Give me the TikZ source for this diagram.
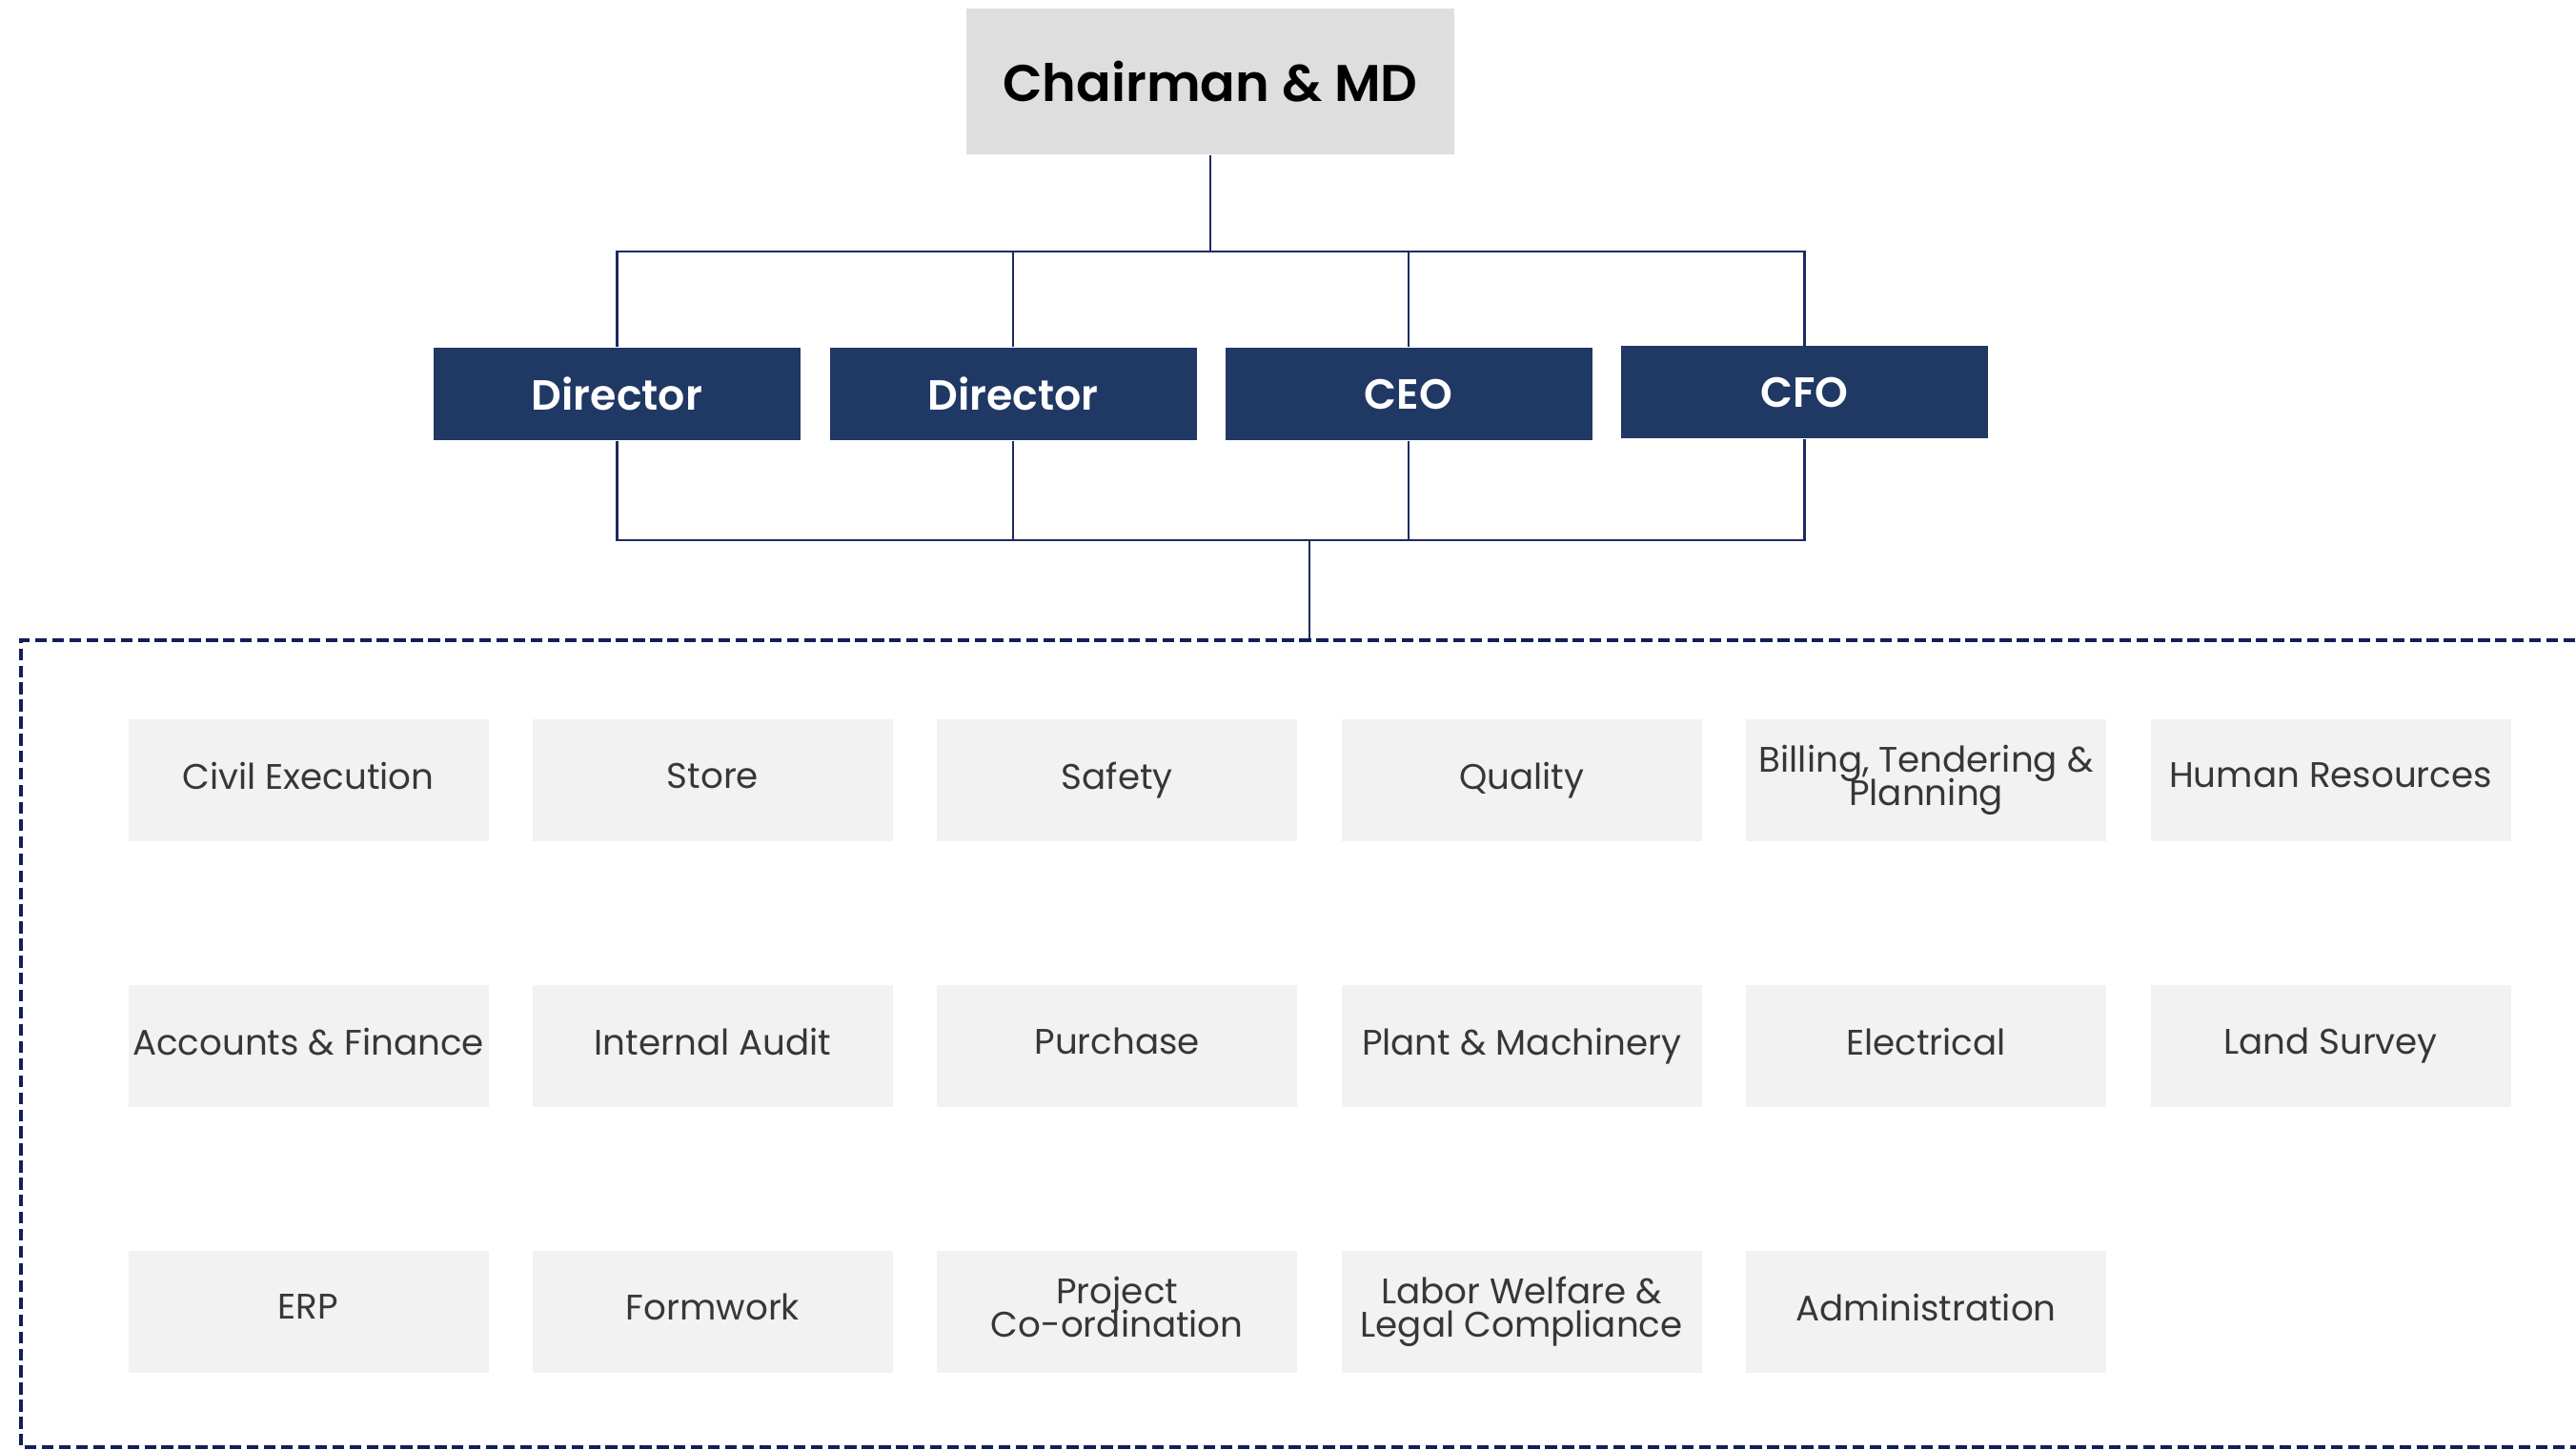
\documentclass[tikz,border=0pt]{standalone}
\usepackage{fontspec}
\setmainfont{Poppins}
\newfontfamily\semifont{Poppins SemiBold}
\newlength\tightlimit
\setlength\tightlimit{-100pt}
\definecolor{navyfill}{RGB}{32,56,100}
\definecolor{linkblue}{RGB}{30,42,100}
\definecolor{dashblue}{RGB}{18,30,88}
\definecolor{chairgray}{RGB}{222,222,222}
\definecolor{deptgray}{RGB}{242,242,242}
\definecolor{deptink}{RGB}{55,55,55}
\tikzset{
    chairbox/.style={fill=chairgray, minimum width=5.12cm, minimum height=1.53cm, inner sep=0pt, font=\fontsize{15.4}{17}\selectfont\semifont},
    headbox/.style={fill=navyfill, text=white, minimum width=3.85cm, minimum height=0.97cm, inner sep=0pt, font=\fontsize{12.6}{14}\selectfont\semifont},
    deptbox/.style={fill=deptgray, text=deptink, minimum width=3.78cm, minimum height=1.28cm, inner sep=0pt, align=center,
        font={\fontsize{10.6}{9.8}\selectfont\lineskiplimit=\tightlimit\relax}},
    link/.style={draw=linkblue, line width=0.6pt},
}
\begin{document}
\begin{tikzpicture}
    \useasboundingbox (0,0) rectangle (27.03,-15.22);

    \node[chairbox] (chair) at (12.70, -0.855) {Chairman \& MD};
    \node[headbox] (dir1) at (6.475, -4.135) {Director};
    \node[headbox] (dir2) at (10.63, -4.135) {Director};
    \node[headbox] (ceo) at (14.78, -4.135) {CEO};
    \node[headbox] (cfo) at (18.935, -4.12) {CFO};

    \coordinate (topbus) at (12.70, -2.64);
    \coordinate (lowbus) at (13.74, -5.67);
    \coordinate (pooltop) at (13.74, -6.72);

    \draw[link] (chair.south) -- (topbus);
    \foreach \n in {dir1, dir2, ceo, cfo} {
        \draw[link] (topbus) -| (\n.north);
        \draw[link] (\n.south) |- (lowbus);
    }
    \draw[link] (lowbus) -- (pooltop);

    % dashed frame, open to the right
    \draw[dashblue, line width=0.9pt, dash pattern=on 3.5pt off 1.6pt]
        (27.2, -6.72) -- (0.22, -6.72) -- (0.22, -15.19) -- (27.2, -15.19);

    \foreach \txt/\c/\r in {
        {Civil Execution}/1/1, {Store}/2/1, {Safety}/3/1, {Quality}/4/1,
        {Billing, Tendering \&\\Planning}/5/1, {Human Resources}/6/1,
        {Accounts \& Finance}/1/2, {Internal Audit}/2/2, {Purchase}/3/2,
        {Plant \& Machinery}/4/2, {Electrical}/5/2, {Land Survey}/6/2,
        {ERP}/1/3, {Formwork}/2/3, {Project\\Co-ordination\vphantom{g}}/3/3,
        {Labor Welfare \&\\Legal Compliance}/4/3, {Administration}/5/3} {
        \node[deptbox] (dept-\r-\c) at ({3.235 + 4.244*(\c-1)}, {-8.19 - 2.79*(\r-1)}) {\vphantom{Ag}\txt};
    }
\end{tikzpicture}
\end{document}
